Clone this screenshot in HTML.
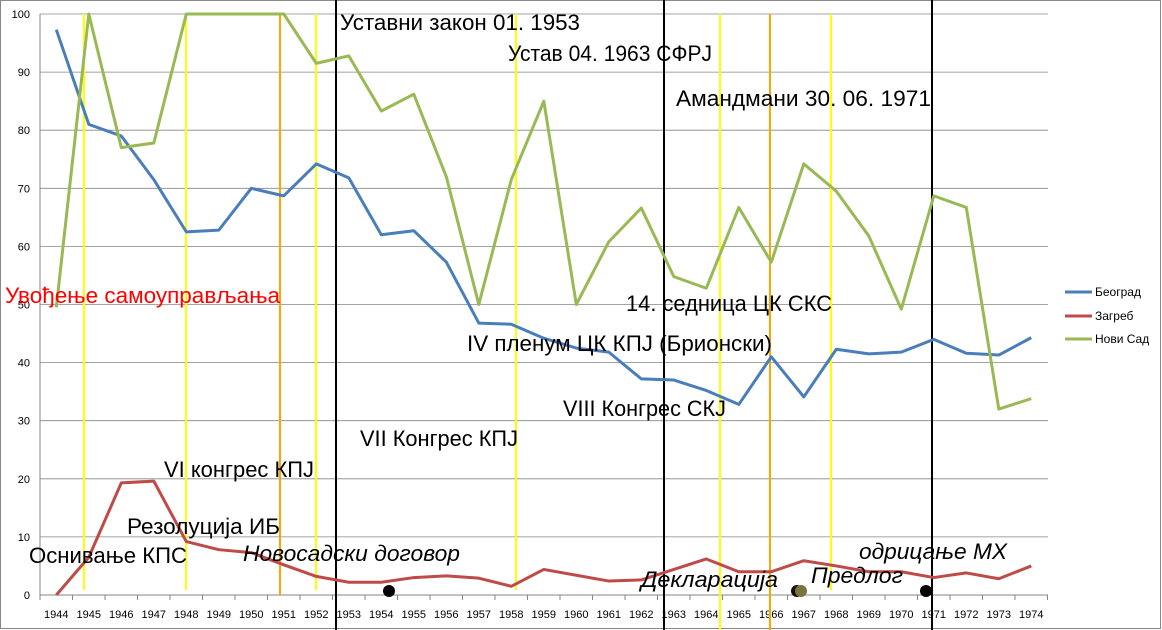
<!DOCTYPE html>
<html><head><meta charset="utf-8">
<style>
html,body{margin:0;padding:0;background:#fff;}
svg{display:block;font-family:"Liberation Sans",sans-serif;}
</style></head>
<body>
<svg id="c" width="1162" height="630" viewBox="0 0 1162 630" xmlns="http://www.w3.org/2000/svg">
<rect x="0.5" y="0.5" width="1160" height="628" fill="#fff" stroke="#888" stroke-width="1"/>
<g id="grid"></g>
<g id="vl"></g>
<g id="ser"></g>
<g font-size="22" fill="#000">
<text x="340" y="30" textLength="240" lengthAdjust="spacingAndGlyphs">Уставни закон 01. 1953</text>
<text x="508" y="61" textLength="204" lengthAdjust="spacingAndGlyphs">Устав 04. 1963 СФРЈ</text>
<text x="676" y="106" textLength="255" lengthAdjust="spacingAndGlyphs">Амандмани 30. 06. 1971</text>
<text x="5" y="303" fill="#ff0000" textLength="275" lengthAdjust="spacingAndGlyphs">Увођење самоуправљања</text>
<text x="626" y="311" textLength="206" lengthAdjust="spacingAndGlyphs">14. седница ЦК СКС</text>
<text x="467" y="351" textLength="305" lengthAdjust="spacingAndGlyphs">IV пленум ЦК КПЈ (Брионски)</text>
<text x="563" y="416" textLength="163" lengthAdjust="spacingAndGlyphs">VIII Конгрес СКЈ</text>
<text x="360" y="446" textLength="158" lengthAdjust="spacingAndGlyphs">VII Конгрес КПЈ</text>
<text x="164" y="477" textLength="150" lengthAdjust="spacingAndGlyphs">VI конгрес КПЈ</text>
<text x="127" y="534" textLength="153" lengthAdjust="spacingAndGlyphs">Резолуција ИБ</text>
<text x="29" y="563" textLength="158" lengthAdjust="spacingAndGlyphs">Оснивање КПС</text>
<text x="243" y="561" font-style="italic" textLength="217" lengthAdjust="spacingAndGlyphs">Новосадски договор</text>
<text x="859" y="559" font-style="italic" textLength="148" lengthAdjust="spacingAndGlyphs">одрицање МХ</text>
<text x="641" y="587" font-style="italic" textLength="137" lengthAdjust="spacingAndGlyphs">Декларација</text>
<text x="811" y="583" font-style="italic" textLength="92" lengthAdjust="spacingAndGlyphs">Предлог</text>
</g>
<circle cx="389" cy="591" r="6" fill="#000"/>
<circle cx="797" cy="591" r="6" fill="#111"/>
<circle cx="801" cy="591" r="6" fill="#7a7440"/>
<circle cx="926" cy="591" r="6" fill="#000"/>
<g font-size="12" fill="#000">
<line x1="1065" y1="292" x2="1092" y2="292" stroke="#4a7ebb" stroke-width="3"/>
<text x="1095" y="296">Београд</text>
<line x1="1065" y1="316" x2="1092" y2="316" stroke="#be4b48" stroke-width="3"/>
<text x="1095" y="320">Загреб</text>
<line x1="1065" y1="339" x2="1092" y2="339" stroke="#98b954" stroke-width="3"/>
<text x="1095" y="343">Нови Сад</text>
</g>
</svg>
<script>
var NS="http://www.w3.org/2000/svg";
function el(p,t,a,txt){var e=document.createElementNS(NS,t);for(var k in a)e.setAttribute(k,a[k]);if(txt!=null)e.textContent=txt;p.appendChild(e);return e;}
var g=document.getElementById('grid'),vl=document.getElementById('vl'),s=document.getElementById('ser');
function Y(v){return 595-v*5.81;}
function X(i){return 56.3+32.5*i;}
for(var v=0;v<=100;v+=10){
 if(v>0)el(g,'line',{x1:40,x2:1048,y1:Y(v),y2:Y(v),stroke:'#868686','stroke-width':0.8});
 el(g,'text',{x:30,y:Y(v)+4,'font-size':11,'text-anchor':'end'},String(v));
}
el(g,'line',{x1:40,x2:1048,y1:595,y2:595,stroke:'#868686','stroke-width':1});
el(g,'line',{x1:40,x2:40,y1:14,y2:600,stroke:'#868686','stroke-width':1});
for(var i=0;i<=31;i++){var x=40+32.5*i;el(g,'line',{x1:x,x2:x,y1:595,y2:600,stroke:'#868686','stroke-width':1});}
for(var i=0;i<31;i++)el(g,'text',{x:X(i),y:618,'font-size':11,'text-anchor':'middle'},String(1944+i));
[[84,'#ffff00',14,590],[186,'#ffff00',14,590],[316,'#ffff00',14,590],[516,'#ffff00',14,590],[720,'#ffff00',14,630],[831,'#ffff00',14,590],
 [280,'#ffa500',14,595],[770,'#ffa500',14,630],
 [336,'#000',0,630],[664,'#000',0,630],[932,'#000',0,630]].forEach(function(l){
 el(vl,'line',{x1:l[0],x2:l[0],y1:l[2],y2:l[3],stroke:l[1],'stroke-width':2});});
var B=[97.3,81,79,71.5,62.5,62.8,70,68.7,74.2,71.8,62,62.7,57.3,46.8,46.6,44.2,42.5,41.8,37.2,37,35.2,32.8,41,34.1,42.3,41.5,41.8,44,41.6,41.3,44.3];
var N=[49.5,100,77,77.8,100,100,100,100,91.5,92.8,83.3,86.2,72,50,71.5,85,50,60.8,66.6,54.8,52.8,66.7,57.3,74.2,69.5,61.8,49.2,68.7,66.7,32,33.8];
var Z=[0,6.5,19.3,19.6,9.2,7.8,7.3,5.2,3.2,2.2,2.2,3,3.3,2.9,1.5,4.4,3.4,2.4,2.6,4.4,6.2,4,4,5.9,5,4,4,3,3.8,2.8,5];
[[B,'#4a7ebb'],[Z,'#be4b48'],[N,'#98b954']].forEach(function(d){
 el(s,'polyline',{points:d[0].map(function(v,i){return X(i)+','+Y(v);}).join(' '),fill:'none',stroke:d[1],'stroke-width':3,'stroke-linejoin':'round'});});
</script>
</body></html>
